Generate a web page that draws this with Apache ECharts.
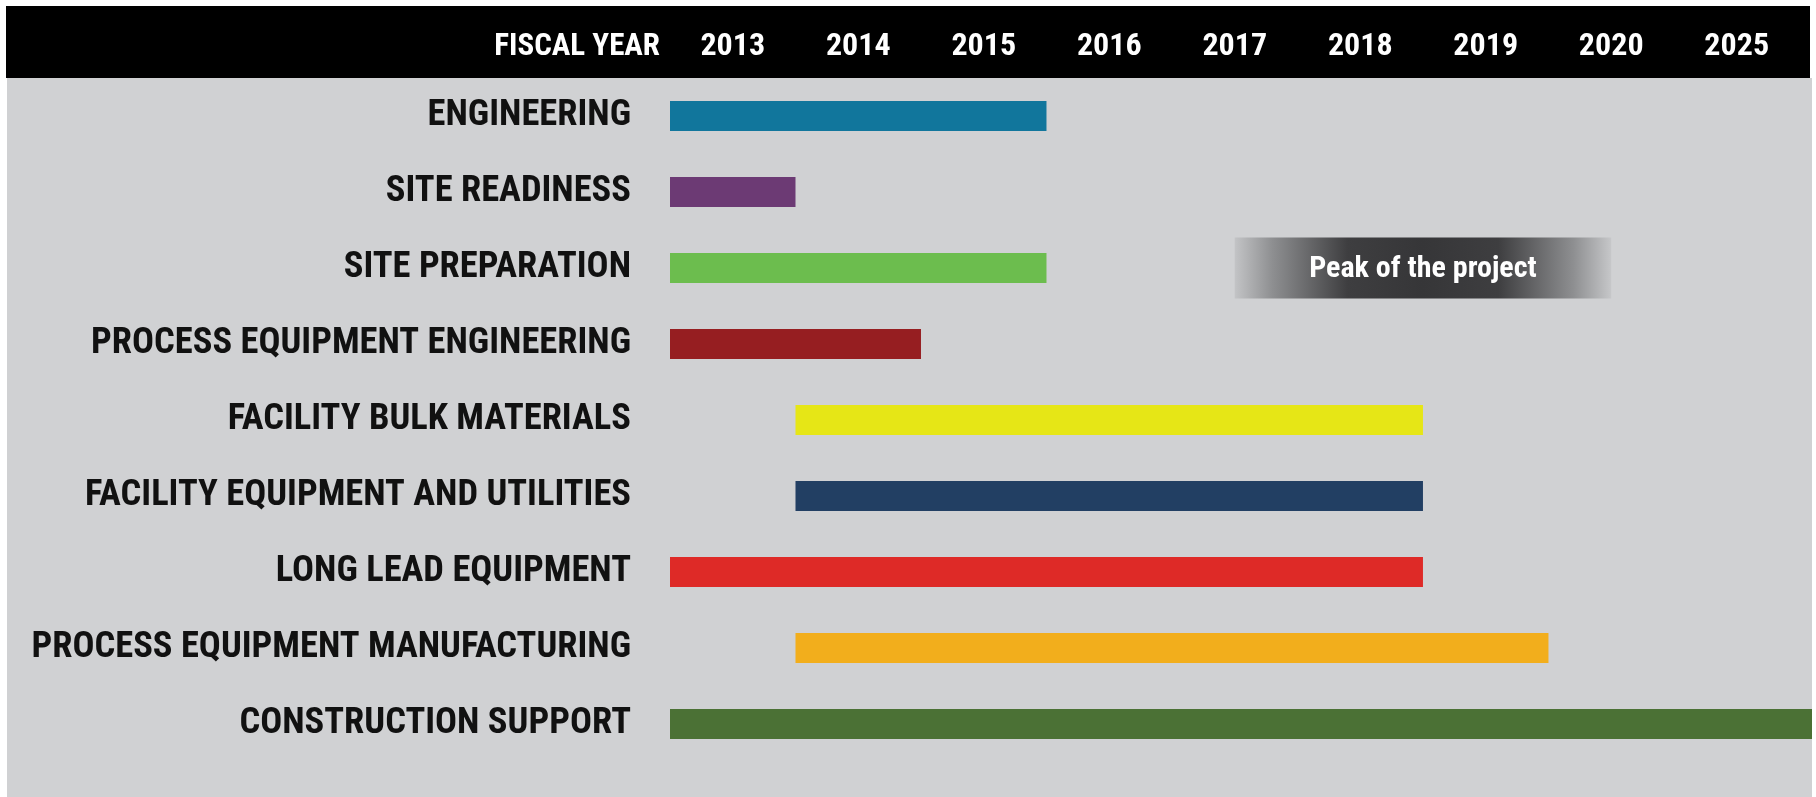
<!DOCTYPE html>
<html>
<head>
<meta charset="utf-8">
<title>Project schedule</title>
<script src="https://cdn.jsdelivr.net/npm/echarts@6/dist/echarts.min.js"></script>
<style>
  html, body { margin: 0; padding: 0; background: #ffffff; }
  #main { width: 1816px; height: 797px; }
</style>
</head>
<body>
<div id="main"></div>
<script>
// fiscal year columns shown in the header (x axis uses column index, 0 = start of 2013)
const years = ['2013', '2014', '2015', '2016', '2017', '2018', '2019', '2020', '2025'];

const tasks = [
  'ENGINEERING',
  'SITE READINESS',
  'SITE PREPARATION',
  'PROCESS EQUIPMENT ENGINEERING',
  'FACILITY BULK MATERIALS',
  'FACILITY EQUIPMENT AND UTILITIES',
  'LONG LEAD EQUIPMENT',
  'PROCESS EQUIPMENT MANUFACTURING',
  'CONSTRUCTION SUPPORT'
];
// start / end in year columns
const taskStart = [0, 0, 0, 0, 1, 1, 0, 1, 0];
const taskEnd = [3, 1, 3, 2, 6, 6, 6, 7, 9.1];
const taskColors = ['#11769c', '#6c3a74', '#6cbd4e', '#961e21', '#e6e616', '#223f63', '#de2a27', '#f2ae1c', '#4b7135'];

// "peak of the project" band (mid 2017 -> mid 2020), drawn on the site preparation row
const peakRow = 2;
const peakStart = 4.5;
const peakEnd = 7.5;
const peakText = 'Peak of the project';

const FONT = "'Roboto Condensed', 'Open Sans Condensed', 'Liberation Sans Narrow', 'DejaVu Sans Condensed', sans-serif";

const chart = echarts.init(document.getElementById('main'));

const taskData = tasks.map((t, i) => ({
  value: [i, taskStart[i], taskEnd[i]],
  itemStyle: { color: taskColors[i] }
}));

const option = {
  animation: false,
  backgroundColor: '#ffffff',
  graphic: [
    { type: 'rect', z: -10, shape: { x: 6, y: 6, width: 1804, height: 72 }, style: { fill: '#000000' } },
    { type: 'rect', z: -10, shape: { x: 7, y: 78, width: 1805, height: 719 }, style: { fill: '#d0d1d3' } },
    {
      type: 'text', z: 10, x: 660, y: 47,
      style: { text: 'FISCAL YEAR', fill: '#ffffff', font: 'bold 31px ' + FONT, align: 'right', verticalAlign: 'middle' }
    }
  ],
  grid: { left: 670, right: 4, top: 78, bottom: 35, outerBoundsMode: 'none' },
  xAxis: {
    type: 'value',
    position: 'top',
    min: 0,
    max: 9.1,
    axisLine: { show: false },
    axisTick: { show: false },
    splitLine: { show: false },
    axisLabel: {
      customValues: years.map((y, i) => i + 0.5),
      formatter: v => years[Math.round(v - 0.5)],
      color: '#ffffff',
      fontSize: 32,
      fontWeight: 'bold',
      fontFamily: FONT,
      margin: 15
    }
  },
  yAxis: {
    type: 'category',
    data: tasks,
    inverse: true,
    axisLine: { show: false },
    axisTick: { show: false },
    splitLine: { show: false },
    axisLabel: {
      color: '#111111',
      fontSize: 36.5,
      fontWeight: 'bold',
      fontFamily: FONT,
      margin: 39,
      padding: [14, 0, 0, 0]
    }
  },
  series: [
    {
      name: 'tasks',
      type: 'custom',
      encode: { x: [1, 2], y: 0 },
      renderItem: function (params, api) {
        const row = api.value(0);
        const s = api.coord([api.value(1), row]);
        const e = api.coord([api.value(2), row]);
        const h = 30;
        return {
          type: 'rect',
          shape: { x: s[0], y: s[1] - h / 2, width: e[0] - s[0], height: h },
          style: api.style()
        };
      },
      data: taskData
    },
    {
      name: 'peak',
      type: 'custom',
      encode: { x: [1, 2], y: 0 },
      renderItem: function (params, api) {
        const row = api.value(0);
        const s = api.coord([api.value(1), row]);
        const e = api.coord([api.value(2), row]);
        const h = 61;
        return {
          type: 'group',
          children: [
            {
              type: 'rect',
              shape: { x: s[0], y: s[1] - h / 2, width: e[0] - s[0], height: h },
              style: {
                fill: new echarts.graphic.LinearGradient(0, 0, 1, 0, [
                  { offset: 0, color: '#c3c4c6' },
                  { offset: 0.1, color: '#8e8f91' },
                  { offset: 0.3, color: '#3e3e40' },
                  { offset: 0.5, color: '#363638' },
                  { offset: 0.7, color: '#3e3e40' },
                  { offset: 0.9, color: '#8e8f91' },
                  { offset: 1, color: '#c6c7c9' }
                ])
              }
            },
            {
              type: 'text',
              x: (s[0] + e[0]) / 2,
              y: s[1] + 1,
              style: {
                text: peakText,
                fill: '#ffffff',
                font: 'bold 30px ' + FONT,
                align: 'center',
                verticalAlign: 'middle'
              }
            }
          ]
        };
      },
      data: [[peakRow, peakStart, peakEnd]]
    }
  ]
};

chart.setOption(option);
</script>
</body>
</html>
